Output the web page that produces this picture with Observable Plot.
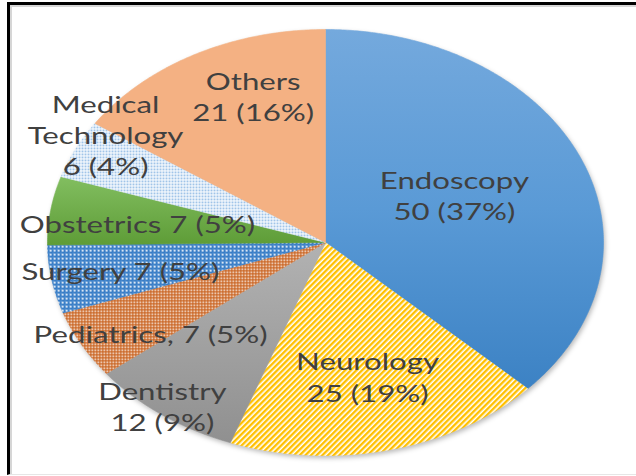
<!DOCTYPE html>
<html><head><meta charset="utf-8">
<script src="https://cdn.jsdelivr.net/npm/d3@7"></script>
<script src="https://cdn.jsdelivr.net/npm/@observablehq/plot@0.6"></script>
<style>
html,body{margin:0;padding:0;background:#fff;width:636px;height:476px;overflow:hidden}
#frame{position:absolute;left:7px;top:2px;width:700px;height:469px;border-left:3px solid #000;border-top:3px solid #000;border-bottom:1px solid #e6e6e6;}
#frame::after{content:"";position:absolute;left:0;top:0;right:0;bottom:0;border-left:2px solid #d6d6d6;border-top:2px solid #d6d6d6}
#chart{position:absolute;left:0;top:0}
</style></head><body>
<div id="frame"></div><div id="chart"></div>
<script>
// ---- data ----
const categories = ["Endoscopy","Neurology","Dentistry","Pediatrics","Surgery","Obstetrics","Medical Technology","Others"];
const values = [50, 25, 12, 7, 7, 7, 6, 21];
const labelNames = ["Endoscopy","Neurology","Dentistry","Pediatrics","Surgery","Obstetrics","Medical\nTechnology","Others"];
const labelJoins = ["\n", "\n", "\n", ", ", " ", " ", "\n", "\n"];

// ---- styling / layout ----
const fills = ["url(#gEndo)","url(#pNeuro)","url(#gDent)","url(#pPed)","url(#pSurg)","url(#gObst)","url(#pMed)","#f4b183"];
const labelRadius = [0.511, 0.656, 0.975, 0.766, 0.751, 0.681, 0.935, 0.726];
const labelNudgeDeg = [-1.5, 0, 1.0, -6.1, -0.8, -2.0, 6.2, 7.0];
const textStretch = 1.3;

const total = d3.sum(values);
const arcs = d3.pie().sort(null).value(d => d)(values);
const step = Math.PI / 360;
function slicePoints(a0, a1) {
  const pts = [[0, 0]];
  const n = Math.max(2, Math.ceil((a1 - a0) / step));
  for (let i = 0; i <= n; i++) {
    const a = a0 + (a1 - a0) * i / n;
    pts.push([Math.sin(a), Math.cos(a)]);
  }
  pts.push([0, 0]);
  return pts;
}
const slices = arcs.map(a => slicePoints(a.startAngle, a.endAngle));
const outline = slicePoints(0, 2 * Math.PI).slice(1, -1);

const labels = arcs.map((a, i) => {
  const mid = (a.startAngle + a.endAngle) / 2 + labelNudgeDeg[i] * Math.PI / 180;
  const pct = Math.round(values[i] / total * 100);
  return {
    x: labelRadius[i] * Math.sin(mid),
    y: labelRadius[i] * Math.cos(mid),
    text: `${labelNames[i]}${labelJoins[i]}${values[i]} (${pct}%)`
  };
});

const marks = [
  Plot.line(outline, {x: d => d[0], y: d => d[1], fill: "#000", fillOpacity: 0.28, stroke: "none", dx: 1.5, dy: 2.5})
];
slices.forEach((pts, i) => {
  marks.push(Plot.line(pts, {x: d => d[0], y: d => d[1], fill: fills[i], stroke: fills[i], strokeWidth: 0.6, curve: "linear"}));
});
marks.push(Plot.text(labels, {x: "x", y: "y", text: "text", fontFamily: "Lato", fontSize: 24, fill: "#404040", lineHeight: 1.3, lineAnchor: "middle", textAnchor: "middle", dy: -2.5}));

const chart = Plot.plot({
  width: 636, height: 476, margin: 0,
  style: {background: "transparent", overflow: "visible"},
  x: {domain: [-1, 1], range: [47, 603], axis: null},
  y: {domain: [-1, 1], range: [455, 29], axis: null},
  marks
});

const defs = `<defs>
<filter id="shadow" x="-10%" y="-10%" width="120%" height="120%"><feGaussianBlur stdDeviation="2.5"/></filter>
<linearGradient id="gEndo" x1="0" y1="0" x2="0" y2="1"><stop offset="0" stop-color="#74a9dd"/><stop offset="0.5" stop-color="#5a9ad6"/><stop offset="1" stop-color="#3c82c4"/></linearGradient>
<linearGradient id="gObst" x1="0" y1="0" x2="0" y2="1"><stop offset="0" stop-color="#82be60"/><stop offset="1" stop-color="#5e9c37"/></linearGradient>
<linearGradient id="gDent" x1="0" y1="0" x2="0" y2="1"><stop offset="0" stop-color="#b2b2b2"/><stop offset="1" stop-color="#909090"/></linearGradient>
<pattern id="pNeuro" patternUnits="userSpaceOnUse" width="4" height="4" patternTransform="rotate(45)"><rect width="4" height="4" fill="#fff"/><rect width="2.4" height="4" fill="#ffc000"/></pattern>
<pattern id="pSurg" patternUnits="userSpaceOnUse" width="4" height="4"><rect width="4" height="4" fill="#2a74c2"/><rect x="1.2" y="1.2" width="2" height="2" fill="#fff"/><rect x="0" y="0" width="0.8" height="0.8" fill="#a6c8ec"/></pattern>
<pattern id="pPed" patternUnits="userSpaceOnUse" width="3" height="3"><rect width="3" height="3" fill="#c8601c"/><rect x="1" y="1" width="1.6" height="1.6" fill="#fff"/></pattern>
<pattern id="pMed" patternUnits="userSpaceOnUse" width="3" height="3"><rect width="3" height="3" fill="#fff"/><rect width="2" height="1.8" fill="#96bee6"/></pattern>
</defs>`;
chart.insertAdjacentHTML("afterbegin", defs);

// shadow blur
const lineGroups = chart.querySelectorAll('g[aria-label="line"]');
if (lineGroups.length) lineGroups[0].setAttribute("filter", "url(#shadow)");

// horizontal stretch of labels (reference text is stretched like the pie)
chart.querySelectorAll('g[aria-label="text"] text').forEach(t => {
  const x = +t.getAttribute("x") || 0;
  const y = +t.getAttribute("y") || 0;
  const tr = t.getAttribute("transform") || "";
  t.setAttribute("transform", `${tr} translate(${x},${y}) scale(${textStretch},1) translate(${-x},${-y})`);
});

document.getElementById("chart").appendChild(chart);
</script>
</body></html>
